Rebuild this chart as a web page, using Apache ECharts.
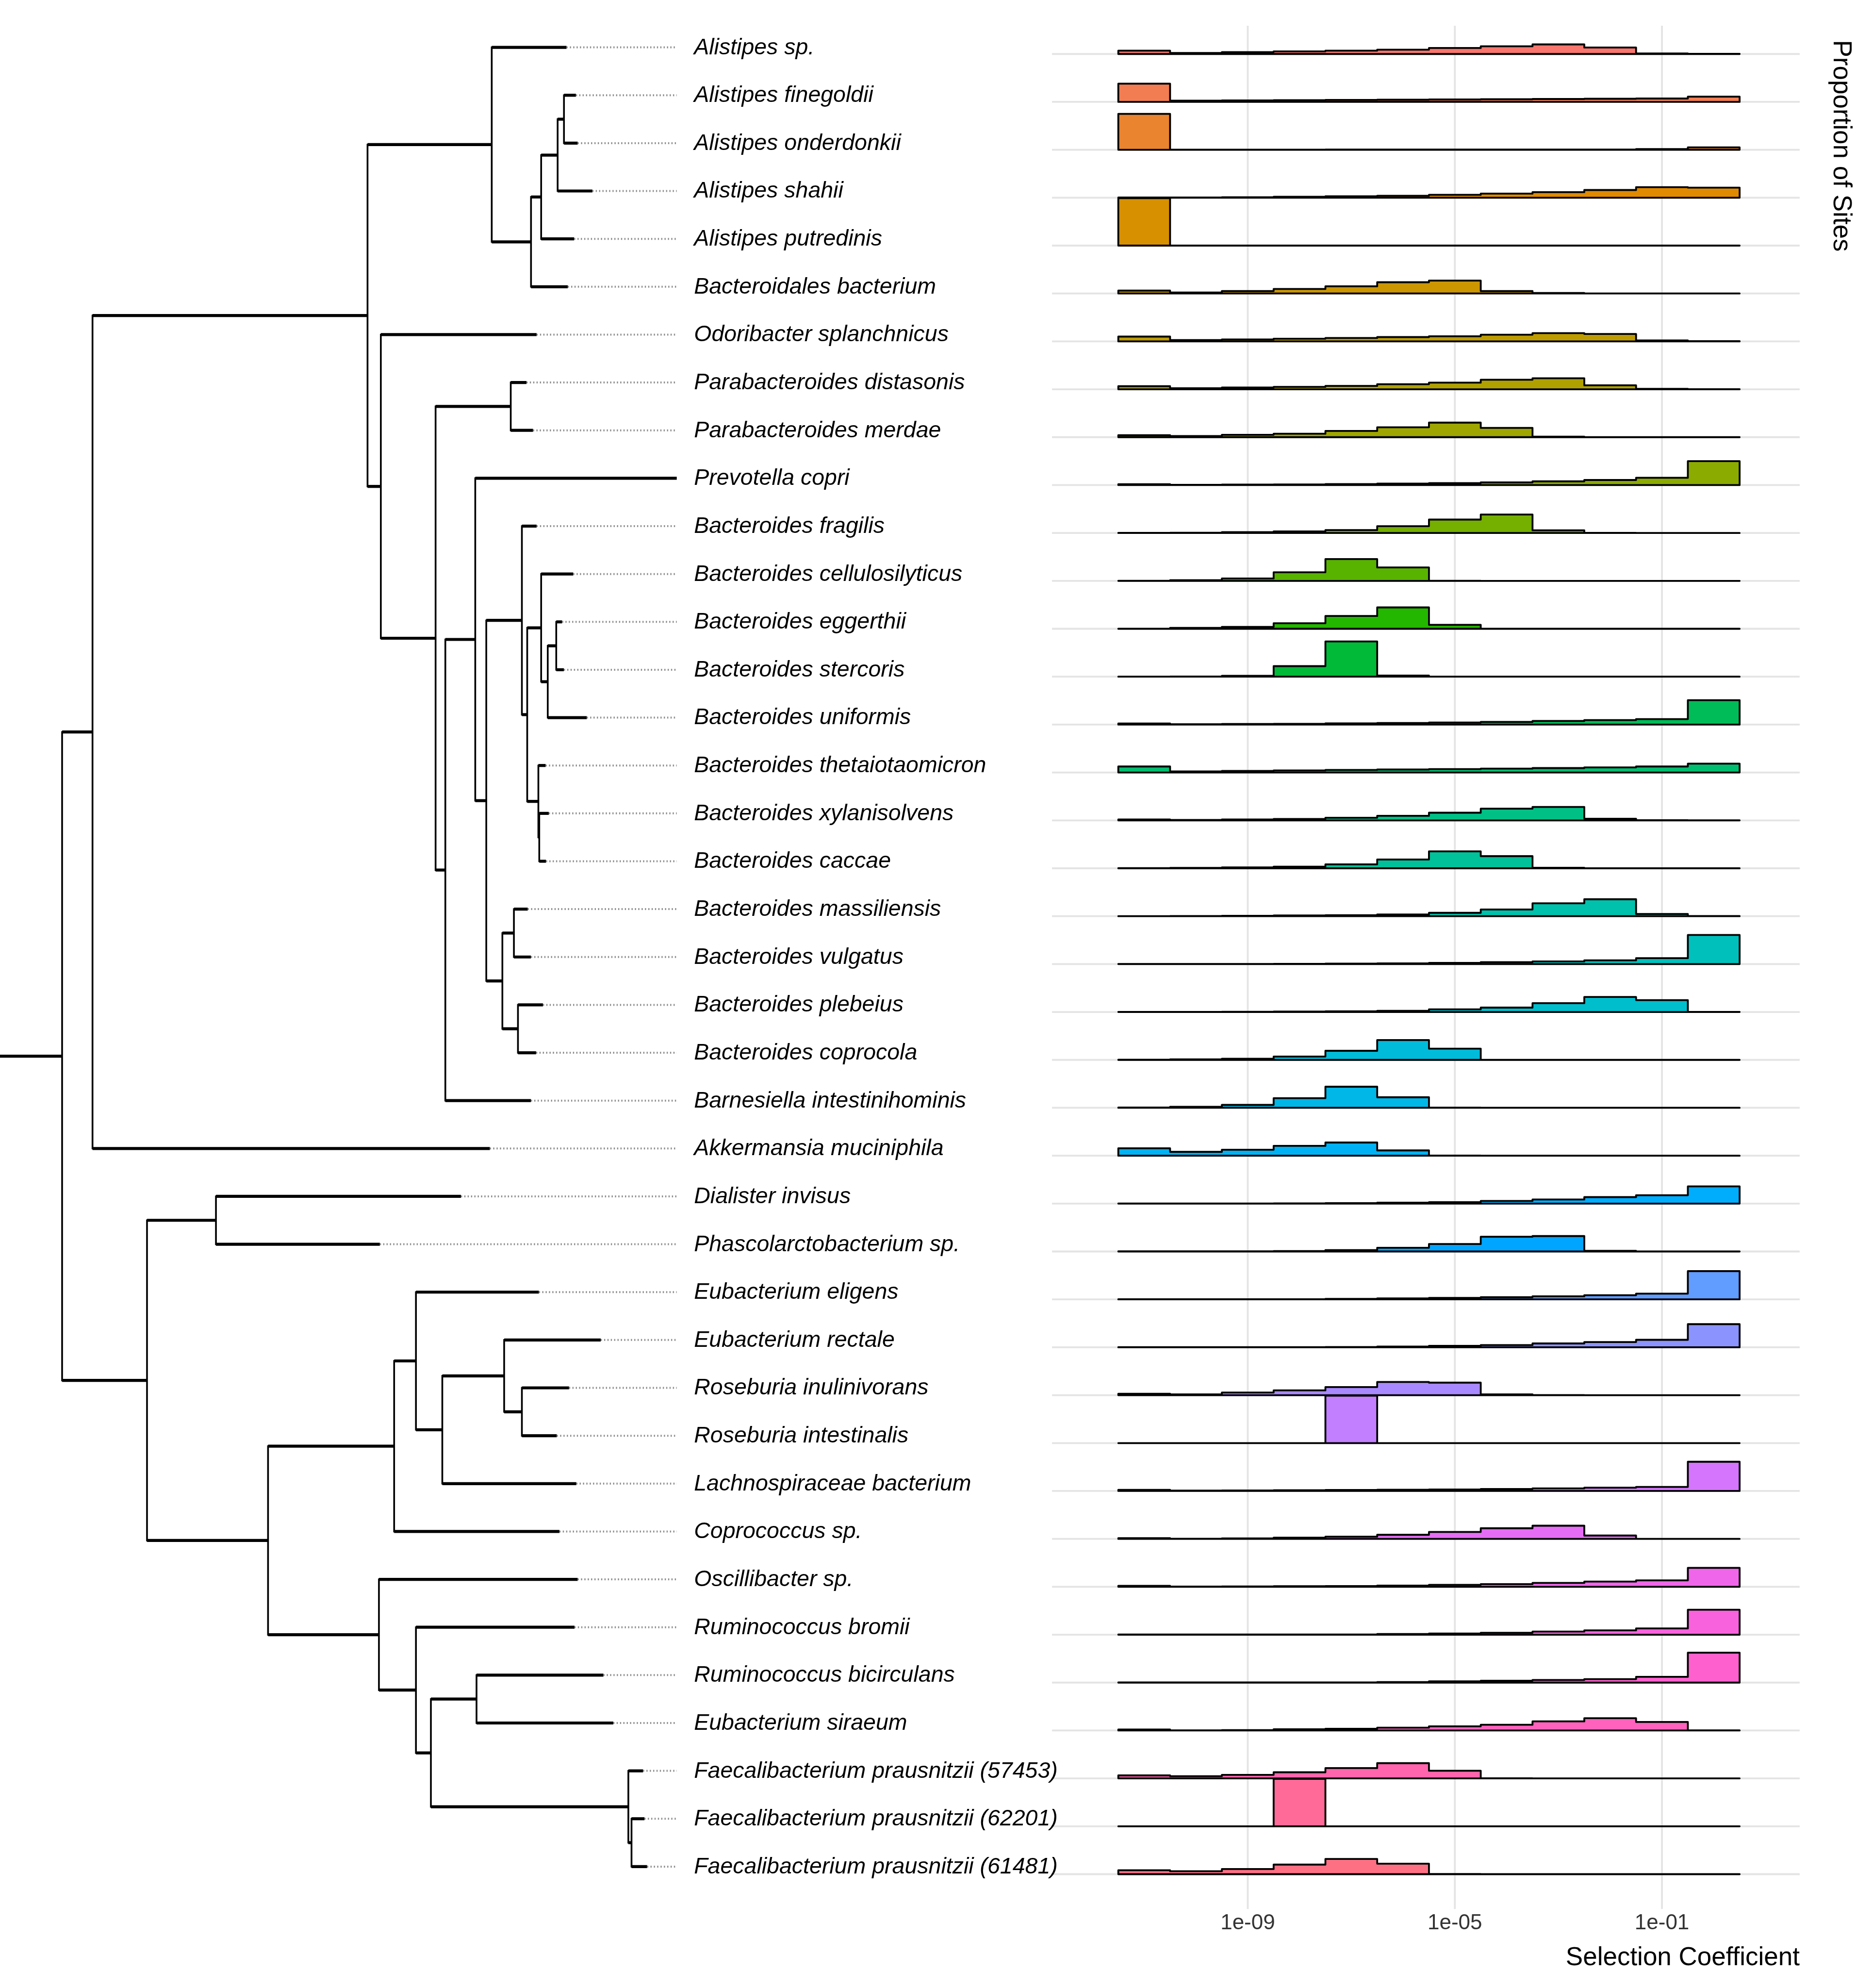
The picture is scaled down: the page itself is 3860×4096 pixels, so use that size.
<!DOCTYPE html>
<html><head><meta charset="utf-8">
<script src="https://cdn.jsdelivr.net/npm/echarts@6/dist/echarts.min.js"></script>
<style>html,body{margin:0;padding:0;background:#fff}#c{width:3860px;height:4096px}</style>
</head><body><div id="c"></div>
<script>
// ---------------- data ----------------
const species = [
  'Alistipes sp.', 'Alistipes finegoldii', 'Alistipes onderdonkii', 'Alistipes shahii', 'Alistipes putredinis',
  'Bacteroidales bacterium', 'Odoribacter splanchnicus', 'Parabacteroides distasonis', 'Parabacteroides merdae',
  'Prevotella copri', 'Bacteroides fragilis', 'Bacteroides cellulosilyticus', 'Bacteroides eggerthii',
  'Bacteroides stercoris', 'Bacteroides uniformis', 'Bacteroides thetaiotaomicron', 'Bacteroides xylanisolvens',
  'Bacteroides caccae', 'Bacteroides massiliensis', 'Bacteroides vulgatus', 'Bacteroides plebeius',
  'Bacteroides coprocola', 'Barnesiella intestinihominis', 'Akkermansia muciniphila', 'Dialister invisus',
  'Phascolarctobacterium sp.', 'Eubacterium eligens', 'Eubacterium rectale', 'Roseburia inulinivorans',
  'Roseburia intestinalis', 'Lachnospiraceae bacterium', 'Coprococcus sp.', 'Oscillibacter sp.',
  'Ruminococcus bromii', 'Ruminococcus bicirculans', 'Eubacterium siraeum',
  'Faecalibacterium prausnitzii (57453)', 'Faecalibacterium prausnitzii (62201)', 'Faecalibacterium prausnitzii (61481)'
];
// histogram bins: log10(selection coefficient) bin centres (one decade wide)
const binCenters = [-11, -10, -9, -8, -7, -6, -5, -4, -3, -2, -1, 0];
const tickValues = [-9, -5, -1];
const tickLabels = ['1e-09', '1e-05', '1e-01'];

// proportion of sites per bin, one array per species
const alistipesSp        = [0.07, 0.02, 0.04, 0.055, 0.07, 0.09, 0.125, 0.16, 0.2, 0.135, 0.01, 0.003];
const alistipesFinegoldii= [0.38, 0.025, 0.03, 0.035, 0.04, 0.045, 0.05, 0.055, 0.06, 0.065, 0.07, 0.11];
const alistipesOnderdonkii=[0.75, 0.003, 0.003, 0.003, 0.005, 0.005, 0.005, 0.005, 0.005, 0.005, 0.015, 0.05];
const alistipesShahii    = [0.005, 0.005, 0.01, 0.02, 0.03, 0.04, 0.06, 0.085, 0.115, 0.16, 0.22, 0.21];
const alistipesPutredinis= [0.99, 0.002, 0.001, 0.001, 0.001, 0.001, 0.001, 0.001, 0.001, 0.001, 0.001, 0];
const bacteroidalesBact  = [0.06, 0.02, 0.05, 0.094, 0.15, 0.235, 0.27, 0.05, 0.01, 0.001, 0, 0];
const odoribacter        = [0.1, 0.028, 0.04, 0.056, 0.07, 0.09, 0.107, 0.14, 0.173, 0.155, 0.02, 0.005];
const parabDistasonis    = [0.064, 0.023, 0.037, 0.05, 0.07, 0.106, 0.138, 0.2, 0.23, 0.083, 0.01, 0.002];
const parabMerdae        = [0.042, 0.025, 0.05, 0.072, 0.13, 0.207, 0.304, 0.193, 0.01, 0.001, 0, 0];
const prevotellaCopri    = [0.018, 0.005, 0.01, 0.014, 0.02, 0.03, 0.04, 0.055, 0.078, 0.106, 0.152, 0.5];
const bactFragilis       = [0.003, 0.005, 0.018, 0.032, 0.06, 0.143, 0.28, 0.386, 0.055, 0.002, 0, 0];
const bactCellulosilyticus=[0.001, 0.014, 0.05, 0.18, 0.455, 0.28, 0.002, 0, 0, 0, 0, 0];
const bactEggerthii      = [0.001, 0.018, 0.04, 0.115, 0.267, 0.446, 0.083, 0.002, 0, 0, 0, 0];
const bactStercoris      = [0, 0.002, 0.018, 0.22, 0.736, 0.023, 0.001, 0, 0, 0, 0, 0];
const bactUniformis      = [0.023, 0.008, 0.012, 0.015, 0.025, 0.033, 0.042, 0.055, 0.075, 0.095, 0.115, 0.51];
const bactTheta          = [0.125, 0.022, 0.032, 0.042, 0.052, 0.062, 0.07, 0.08, 0.092, 0.107, 0.125, 0.185];
const bactXylanisolvens  = [0.018, 0.008, 0.018, 0.03, 0.055, 0.095, 0.16, 0.244, 0.28, 0.035, 0.005, 0.001];
const bactCaccae         = [0.003, 0.008, 0.018, 0.035, 0.083, 0.184, 0.354, 0.253, 0.01, 0.001, 0, 0];
const bactMassiliensis   = [0.001, 0.002, 0.008, 0.015, 0.02, 0.035, 0.07, 0.14, 0.27, 0.354, 0.046, 0.002];
const bactVulgatus       = [0.003, 0.003, 0.003, 0.004, 0.01, 0.015, 0.025, 0.04, 0.055, 0.078, 0.124, 0.607];
const bactPlebeius       = [0.001, 0.002, 0.003, 0.008, 0.015, 0.025, 0.055, 0.092, 0.184, 0.313, 0.248, 0.002];
const bactCoprocola      = [0.003, 0.01, 0.025, 0.07, 0.19, 0.414, 0.235, 0.002, 0, 0, 0, 0];
const barnesiella        = [0.005, 0.02, 0.06, 0.2, 0.44, 0.22, 0.002, 0, 0, 0, 0, 0];
const akkermansia        = [0.155, 0.08, 0.125, 0.205, 0.275, 0.11, 0.002, 0, 0, 0, 0, 0];
const dialister          = [0.003, 0.003, 0.003, 0.005, 0.01, 0.02, 0.03, 0.055, 0.085, 0.135, 0.175, 0.36];
const phascolarcto       = [0.003, 0.003, 0.003, 0.01, 0.03, 0.078, 0.156, 0.308, 0.322, 0.014, 0.001, 0];
const eubEligens         = [0.003, 0.003, 0.003, 0.004, 0.01, 0.02, 0.03, 0.045, 0.064, 0.087, 0.12, 0.59];
const eubRectale         = [0.003, 0.003, 0.003, 0.003, 0.004, 0.015, 0.03, 0.045, 0.08, 0.11, 0.156, 0.483];
const rosInulinivorans   = [0.03, 0.018, 0.055, 0.1, 0.17, 0.276, 0.262, 0.018, 0.001, 0, 0, 0];
const rosIntestinalis    = [0, 0, 0, 0, 0.99, 0, 0, 0, 0, 0, 0, 0];
const lachnospiraceae    = [0.023, 0.008, 0.012, 0.015, 0.02, 0.025, 0.03, 0.04, 0.055, 0.07, 0.085, 0.61];
const coprococcus        = [0.015, 0.003, 0.01, 0.025, 0.045, 0.085, 0.145, 0.222, 0.275, 0.07, 0.001, 0];
const oscillibacter      = [0.02, 0.005, 0.008, 0.012, 0.015, 0.025, 0.04, 0.055, 0.08, 0.108, 0.135, 0.395];
const rumBromii          = [0.003, 0.003, 0.003, 0.003, 0.004, 0.015, 0.025, 0.04, 0.065, 0.09, 0.13, 0.52];
const rumBicirculans     = [0.003, 0.003, 0.003, 0.003, 0.004, 0.012, 0.025, 0.04, 0.055, 0.073, 0.12, 0.625];
const eubSiraeum         = [0.02, 0.004, 0.008, 0.025, 0.037, 0.058, 0.087, 0.12, 0.19, 0.256, 0.178, 0.002];
const faecali57453       = [0.062, 0.045, 0.074, 0.128, 0.215, 0.318, 0.16, 0.001, 0, 0, 0, 0];
const faecali62201       = [0, 0, 0, 0.99, 0, 0, 0, 0, 0, 0, 0, 0];
const faecali61481       = [0.083, 0.062, 0.107, 0.2, 0.318, 0.22, 0.004, 0, 0, 0, 0, 0];

const proportions = [alistipesSp, alistipesFinegoldii, alistipesOnderdonkii, alistipesShahii, alistipesPutredinis,
  bacteroidalesBact, odoribacter, parabDistasonis, parabMerdae, prevotellaCopri, bactFragilis, bactCellulosilyticus,
  bactEggerthii, bactStercoris, bactUniformis, bactTheta, bactXylanisolvens, bactCaccae, bactMassiliensis,
  bactVulgatus, bactPlebeius, bactCoprocola, barnesiella, akkermansia, dialister, phascolarcto, eubEligens,
  eubRectale, rosInulinivorans, rosIntestinalis, lachnospiraceae, coprococcus, oscillibacter, rumBromii,
  rumBicirculans, eubSiraeum, faecali57453, faecali62201, faecali61481];

// phylogeny: T(tipIndex, branchLength), N(branchLength, children...)
const T = (tip, len) => ({ tip, len });
const N = (len, ...kids) => ({ len, kids });
const tree = N(49,
  N(24,
    N(217,
      N(98, T(0, 59), N(31, N(8, N(13, N(5, T(1, 9.4), T(2, 10.8)), T(3, 27.4)), T(4, 26)), T(5, 29))),
      N(10.5, T(6, 122.9),
        N(43.2, N(59.3, T(7, 12.4), T(8, 17.6)),
          N(7.7,
            N(23.6, T(9, 159),
              N(8.7,
                N(28.1, T(10, 11.6),
                  N(4.2,
                    N(11, T(11, 25.3), N(5.2, N(6.7, T(12, 4.6), T(13, 6)), T(14, 30.8))),
                    N(8.8, T(15, 5.7), N(0.7, T(16, 7.5), T(17, 5.3))))),
                N(12.7, N(9.1, T(18, 10.9), T(19, 13.4)), N(12.3, T(20, 19.7), T(21, 14.3))))),
            T(22, 67.5))))),
    T(23, 313.5)),
  N(67,
    N(54.4, T(24, 193.3), T(25, 129.3)),
    N(95.5,
      N(99.5, N(17.2, T(26, 97), N(20.8, N(48.8, T(27, 76.2), N(14, T(28, 37.2), T(29, 27.5))), T(30, 105.7))), T(31, 130.4)),
      N(87.5, T(32, 156.8), N(29.2, T(33, 125.1), N(11.8, N(36, T(34, 100.1), T(35, 107.9)), N(155.8, T(36, 11.6), N(2.5, T(37, 10.2), T(38, 12.3))))))))
);

// ---------------- derived ----------------
function hcl(h, c, l) {
  const hr = h * Math.PI / 180;
  const U = c * Math.cos(hr), V = c * Math.sin(hr);
  const Y = l > 8 ? Math.pow((l + 16) / 116, 3) : l / 903.3;
  const un = 0.1978398, vn = 0.4683363;
  const u = U / (13 * l) + un, v = V / (13 * l) + vn;
  const X = 9 * Y * u / (4 * v);
  const Z = -X / 3 - 5 * Y + 3 * Y / v;
  const lin = [3.240479 * X - 1.537150 * Y - 0.498535 * Z,
              -0.969256 * X + 1.875992 * Y + 0.041556 * Z,
               0.055648 * X - 0.204043 * Y + 1.057311 * Z];
  return '#' + lin.map(q => {
    q = q <= 0.0031308 ? 12.92 * q : 1.055 * Math.pow(q, 1 / 2.4) - 0.055;
    q = Math.max(0, Math.min(1, q));
    return Math.round(q * 255).toString(16).padStart(2, '0');
  }).join('');
}
const nSp = species.length;
const colors = species.map((s, i) => hcl(15 + 360 * i / nSp, 100, 65));

const segs = []; // [x1, y1, x2, y2, kind] kind: 0 horizontal, 1 vertical, 2 dotted
let alignDepth = 0;
function place(node, parentDepth) {
  node.pd = parentDepth;
  node.depth = parentDepth + node.len;
  if (node.tip !== undefined) {
    node.y = node.tip;
    alignDepth = Math.max(alignDepth, node.depth);
  } else {
    node.kids.forEach(k => place(k, node.depth));
    node.y = node.kids.reduce((a, k) => a + k.y, 0) / node.kids.length;
  }
}
place(tree, 0);
function collect(node) {
  segs.push([node.pd, node.y, node.depth, node.y, 0]);
  if (node.kids) {
    const ys = node.kids.map(k => k.y);
    segs.push([node.depth, Math.min(...ys), node.depth, Math.max(...ys), 1]);
    node.kids.forEach(collect);
  }
}
collect(tree);
function tips(node, out) { if (node.kids) node.kids.forEach(k => tips(k, out)); else out.push(node); return out; }
tips(tree, []).forEach(t => { if (t.depth < alignDepth - 0.5) segs.push([t.depth, t.y, alignDepth, t.y, 2]); });
segs.sort((a, b) => (b[4] === 2) - (a[4] === 2));

// ---------------- chart ----------------
const FONT = "'Liberation Sans', Arial, Helvetica, sans-serif";
const chart = echarts.init(document.getElementById('c'), null, { renderer: 'canvas' });
const xMin = -12.78, xMax = 1.66, yMin = -0.7265, yMax = 38.59;

const gridData = tickValues.map(v => [0, v]).concat(species.map((s, i) => [1, nSp - 1 - i]));

chart.setOption({
  animation: false,
  backgroundColor: '#ffffff',
  grid: [
    { left: 0, top: 97.6, width: 1567.1, height: 3748.3 },
    { left: 2168.1, top: 53.0, width: 1540.8, height: 3880.2 }
  ],
  xAxis: [
    { gridIndex: 0, type: 'value', min: 0, max: 600, show: false },
    { gridIndex: 1, type: 'value', min: xMin, max: xMax,
      axisLine: { show: false }, axisTick: { show: false }, splitLine: { show: false },
      axisLabel: { customValues: tickValues, margin: 8, fontSize: 44, color: '#333333', fontFamily: FONT,
        formatter: v => { const k = tickValues.indexOf(v); return k >= 0 ? tickLabels[k] : ''; } } }
  ],
  yAxis: [
    { gridIndex: 0, type: 'value', min: 0, max: nSp - 1, inverse: true, show: false },
    { gridIndex: 1, type: 'value', min: yMin, max: yMax, show: false }
  ],
  graphic: [
    { type: 'text', x: 3709, y: 4034, silent: true,
      style: { text: 'Selection Coefficient', fontSize: 53, fontFamily: FONT, fill: '#000',
        align: 'right', verticalAlign: 'middle', textAlign: 'right', textVerticalAlign: 'middle' } },
    { type: 'text', x: 3794, y: 82.5, rotation: -Math.PI / 2, silent: true,
      style: { text: 'Proportion of Sites', fontSize: 53, fontFamily: FONT, fill: '#000',
        align: 'left', verticalAlign: 'middle', textAlign: 'left', textVerticalAlign: 'middle' } }
  ],
  series: [
    { // background grid lines of the ridge panel
      type: 'custom', xAxisIndex: 1, yAxisIndex: 1, silent: true, z: 1,
      data: gridData,
      renderItem: (params, api) => {
        const kind = api.value(0), v = api.value(1);
        const p1 = kind === 0 ? api.coord([v, yMin]) : api.coord([xMin, v]);
        const p2 = kind === 0 ? api.coord([v, yMax]) : api.coord([xMax, v]);
        return { type: 'line', shape: { x1: p1[0], y1: p1[1], x2: p2[0], y2: p2[1] },
          style: { stroke: '#e4e4e4', lineWidth: 3.8 } };
      }
    },
    { // ridgeline histograms
      type: 'custom', xAxisIndex: 1, yAxisIndex: 1, silent: true, z: 2,
      data: species.map((s, i) => [i]),
      renderItem: (params, api) => {
        const i = api.value(0);
        const vals = proportions[i];
        const base = nSp - 1 - i;
        const half = (binCenters[1] - binCenters[0]) / 2;
        const pts = [api.coord([binCenters[0] - half, base])];
        vals.forEach((v, k) => {
          pts.push(api.coord([binCenters[k] - half, base + v]));
          pts.push(api.coord([binCenters[k] + half, base + v]));
        });
        pts.push(api.coord([binCenters[binCenters.length - 1] + half, base]));
        return { type: 'polygon', shape: { points: pts },
          style: { fill: colors[i], stroke: '#000', lineWidth: 3.8, lineJoin: 'round' } };
      }
    },
    { // tree branches
      type: 'custom', xAxisIndex: 0, yAxisIndex: 0, silent: true, z: 3,
      data: segs,
      renderItem: (params, api) => {
        const a = api.coord([api.value(0), api.value(1)]);
        const b = api.coord([api.value(2), api.value(3)]);
        const kind = api.value(4);
        const style = kind === 2
          ? { stroke: '#8f8f8f', lineWidth: 4, lineDash: [2.5, 4.4], lineCap: 'butt' }
          : kind === 1 ? { stroke: '#000', lineWidth: 3.6, lineCap: 'square' }
          : { stroke: '#000', lineWidth: 6.2, lineCap: 'butt' };
        return { type: 'line', shape: { x1: a[0], y1: a[1], x2: b[0], y2: b[1] }, style };
      }
    },
    { // tip labels
      type: 'custom', xAxisIndex: 0, yAxisIndex: 0, silent: true, z: 4,
      data: species.map((s, i) => [alignDepth, i]),
      renderItem: (params, api) => {
        const p = api.coord([api.value(0), api.value(1)]);
        return { type: 'text', x: p[0] + 35.5, y: p[1] + 1,
          style: { text: species[params.dataIndex], fontSize: 46.5, fontStyle: 'italic', fontFamily: FONT, fill: '#000',
            align: 'left', verticalAlign: 'middle', textAlign: 'left', textVerticalAlign: 'middle' } };
      }
    }
  ]
});
</script>
</body></html>
